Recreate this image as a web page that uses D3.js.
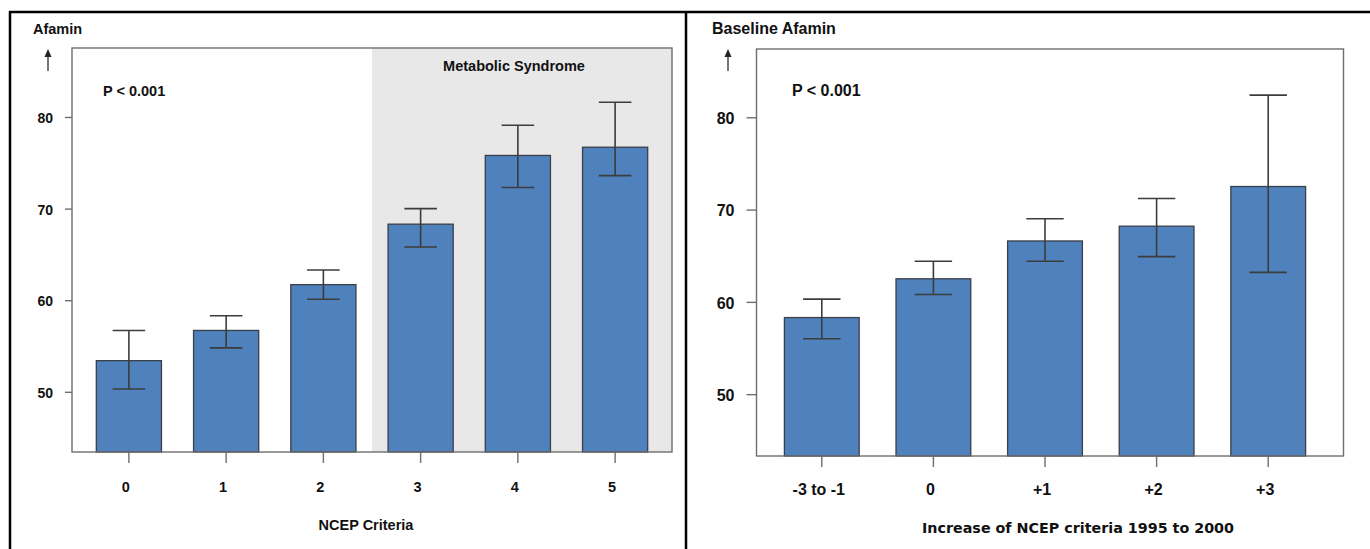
<!DOCTYPE html>
<html>
<head>
<meta charset="utf-8">
<script src="https://cdn.jsdelivr.net/npm/d3@7"></script>
<style>
  body { margin: 0; background: #fff; }
  svg { display: block; }
</style>
</head>
<body>
<svg id="chart" width="1370" height="549"></svg>
<script>
// left panel: afamin by number of NCEP criteria
const leftCats = ["0", "1", "2", "3", "4", "5"];
const leftMeans = [53.4, 56.7, 61.7, 68.3, 75.8, 76.7];
const leftLower = [50.3, 54.8, 60.1, 65.8, 72.3, 73.6];
const leftUpper = [56.7, 58.3, 63.3, 70.0, 79.1, 81.6];

// right panel: baseline afamin by change of NCEP criteria
const rightCats = ["-3 to -1", "0", "+1", "+2", "+3"];
const rightMeans = [58.3, 62.5, 66.6, 68.2, 72.5];
const rightLower = [56.0, 60.8, 64.4, 64.9, 63.2];
const rightUpper = [60.3, 64.4, 69.0, 71.2, 82.4];

const yTicks = [50, 60, 70, 80];

const svg = d3.select("#chart");
const ARIAL = "'Liberation Sans', Arial, Helvetica, sans-serif";
const VERDANA = "'DejaVu Sans', Verdana, sans-serif";
const barFill = "#4f81bd";

// outer frame
svg.append("line").attr("x1", 9).attr("x2", 1370).attr("y1", 12).attr("y2", 12)
  .attr("stroke", "#000").attr("stroke-width", 2.5);
svg.append("line").attr("x1", 10).attr("x2", 10).attr("y1", 11).attr("y2", 549)
  .attr("stroke", "#000").attr("stroke-width", 2.5);
svg.append("line").attr("x1", 686).attr("x2", 686).attr("y1", 11).attr("y2", 549)
  .attr("stroke", "#000").attr("stroke-width", 2.5);

function drawPanel(cfg) {
  const g = svg.append("g");
  const { left, right, top, bottom } = cfg.box;

  const x = d3.scaleBand()
    .domain(cfg.cats)
    .range([left, cfg.bandRight])
    .paddingInner(0.33)
    .paddingOuter(0.25);

  const y = d3.scaleLinear().domain(cfg.yDomain).range([bottom, top]);

  // shaded region (metabolic syndrome)
  if (cfg.shadeFrom) {
    const sx = (x(cfg.shadeFrom) + x.bandwidth() / 2) - x.step() / 2;
    g.append("rect")
      .attr("x", sx).attr("y", top)
      .attr("width", right - sx).attr("height", bottom - top)
      .attr("fill", "#e8e8e8");
    g.append("text")
      .attr("x", cfg.shadeLabelX).attr("y", 71)
      .attr("text-anchor", "middle")
      .attr("font-family", ARIAL).attr("font-weight", "bold")
      .attr("font-size", cfg.fs + "px").attr("fill", "#111")
      .text(cfg.shadeLabel);
  }

  const data = cfg.cats.map((c, i) => ({
    cat: c, mean: cfg.means[i], lo: cfg.lower[i], hi: cfg.upper[i]
  }));

  // bars
  g.selectAll(".bar").data(data).enter().append("rect")
    .attr("class", "bar")
    .attr("x", (d) => x(d.cat))
    .attr("y", (d) => y(d.mean))
    .attr("width", x.bandwidth())
    .attr("height", (d) => bottom - y(d.mean))
    .attr("fill", barFill)
    .attr("stroke", "#3a3f48")
    .attr("stroke-width", 1.3);

  // error bars
  const cap = x.bandwidth() * 0.5;
  const eb = g.selectAll(".err").data(data).enter().append("g").attr("class", "err")
    .attr("stroke", "#3c3c3c").attr("stroke-width", 1.6);
  eb.append("line")
    .attr("x1", (d) => x(d.cat) + x.bandwidth() / 2)
    .attr("x2", (d) => x(d.cat) + x.bandwidth() / 2)
    .attr("y1", (d) => y(d.lo)).attr("y2", (d) => y(d.hi));
  eb.append("line")
    .attr("x1", (d) => x(d.cat) + x.bandwidth() / 2 - cap / 2)
    .attr("x2", (d) => x(d.cat) + x.bandwidth() / 2 + cap / 2)
    .attr("y1", (d) => y(d.hi)).attr("y2", (d) => y(d.hi));
  eb.append("line")
    .attr("x1", (d) => x(d.cat) + x.bandwidth() / 2 - cap / 2)
    .attr("x2", (d) => x(d.cat) + x.bandwidth() / 2 + cap / 2)
    .attr("y1", (d) => y(d.lo)).attr("y2", (d) => y(d.lo));

  // plot frame
  g.append("rect")
    .attr("x", left).attr("y", top)
    .attr("width", right - left).attr("height", bottom - top)
    .attr("fill", "none").attr("stroke", "#6e6e6e").attr("stroke-width", 1.4);

  // Y axis
  const yAxis = g.append("g")
    .attr("transform", `translate(${left},0)`)
    .call(d3.axisLeft(y).tickValues(yTicks).tickSize(cfg.yTick).tickPadding(12).tickFormat(d3.format("d")));
  yAxis.select(".domain").remove();
  yAxis.selectAll("line").attr("stroke", "#6e6e6e").attr("stroke-width", 1.4);
  yAxis.selectAll("text")
    .attr("font-family", ARIAL).attr("font-weight", "bold")
    .attr("font-size", cfg.yfs + "px").attr("fill", "#111")
    .attr("dy", "0.4em");

  // X axis
  const xAxis = g.append("g")
    .attr("transform", `translate(0,${bottom})`)
    .call(d3.axisBottom(x).tickSize(11).tickPadding(0));
  xAxis.select(".domain").remove();
  xAxis.selectAll("line").attr("stroke", "#6e6e6e").attr("stroke-width", 1.4);
  xAxis.selectAll("text")
    .attr("font-family", ARIAL).attr("font-weight", "bold")
    .attr("font-size", cfg.fs + "px").attr("fill", "#111")
    .attr("y", cfg.xLabelDy).attr("dy", 0).attr("dx", -3);

  // axis title (x)
  g.append("text")
    .attr("x", cfg.xTitleX).attr("y", cfg.xTitleY)
    .attr("text-anchor", "middle")
    .attr("font-family", cfg.xTitleFont).attr("font-weight", "bold")
    .attr("font-size", cfg.xTitleSize + "px").attr("fill", "#111")
    .text(cfg.xTitle);

  // y title and arrow
  g.append("text")
    .attr("x", cfg.yTitleX).attr("y", 34)
    .attr("font-family", ARIAL).attr("font-weight", "bold")
    .attr("font-size", cfg.fs + "px").attr("fill", "#111")
    .text(cfg.yTitle);
  g.append("line")
    .attr("x1", cfg.arrowX).attr("x2", cfg.arrowX)
    .attr("y1", 71).attr("y2", 55)
    .attr("stroke", "#555").attr("stroke-width", 1.6);
  g.append("path")
    .attr("d", `M${cfg.arrowX},49 L${cfg.arrowX - 3.5},57 L${cfg.arrowX + 3.5},57 Z`)
    .attr("fill", "#222");

  // p value
  g.append("text")
    .attr("x", cfg.pX).attr("y", 96)
    .attr("font-family", ARIAL).attr("font-weight", "bold")
    .attr("font-size", cfg.fs + "px").attr("fill", "#111")
    .text("P < 0.001");
}

drawPanel({
  cats: leftCats, means: leftMeans, lower: leftLower, upper: leftUpper,
  box: { left: 72, right: 672, top: 48, bottom: 452 },
  bandRight: 672,
  yDomain: [43.43, 87.53],
  yTick: 7, yfs: 14, fs: 14.5,
  xLabelDy: 40,
  shadeFrom: "3", shadeLabel: "Metabolic Syndrome", shadeLabelX: 514,
  xTitle: "NCEP Criteria", xTitleX: 366, xTitleY: 530, xTitleFont: ARIAL, xTitleSize: 14.5,
  yTitle: "Afamin", yTitleX: 33, arrowX: 48, pX: 103
});

drawPanel({
  cats: rightCats, means: rightMeans, lower: rightLower, upper: rightUpper,
  box: { left: 756.5, right: 1343.5, top: 49, bottom: 456 },
  bandRight: 1333.5,
  yDomain: [43.3, 87.4],
  yTick: 10, yfs: 16, fs: 16,
  xLabelDy: 39,
  xTitle: "Increase of NCEP criteria 1995 to 2000", xTitleX: 1078, xTitleY: 533,
  xTitleFont: VERDANA, xTitleSize: 14.3,
  yTitle: "Baseline Afamin", yTitleX: 712, arrowX: 728, pX: 792
});
</script>
</body>
</html>
